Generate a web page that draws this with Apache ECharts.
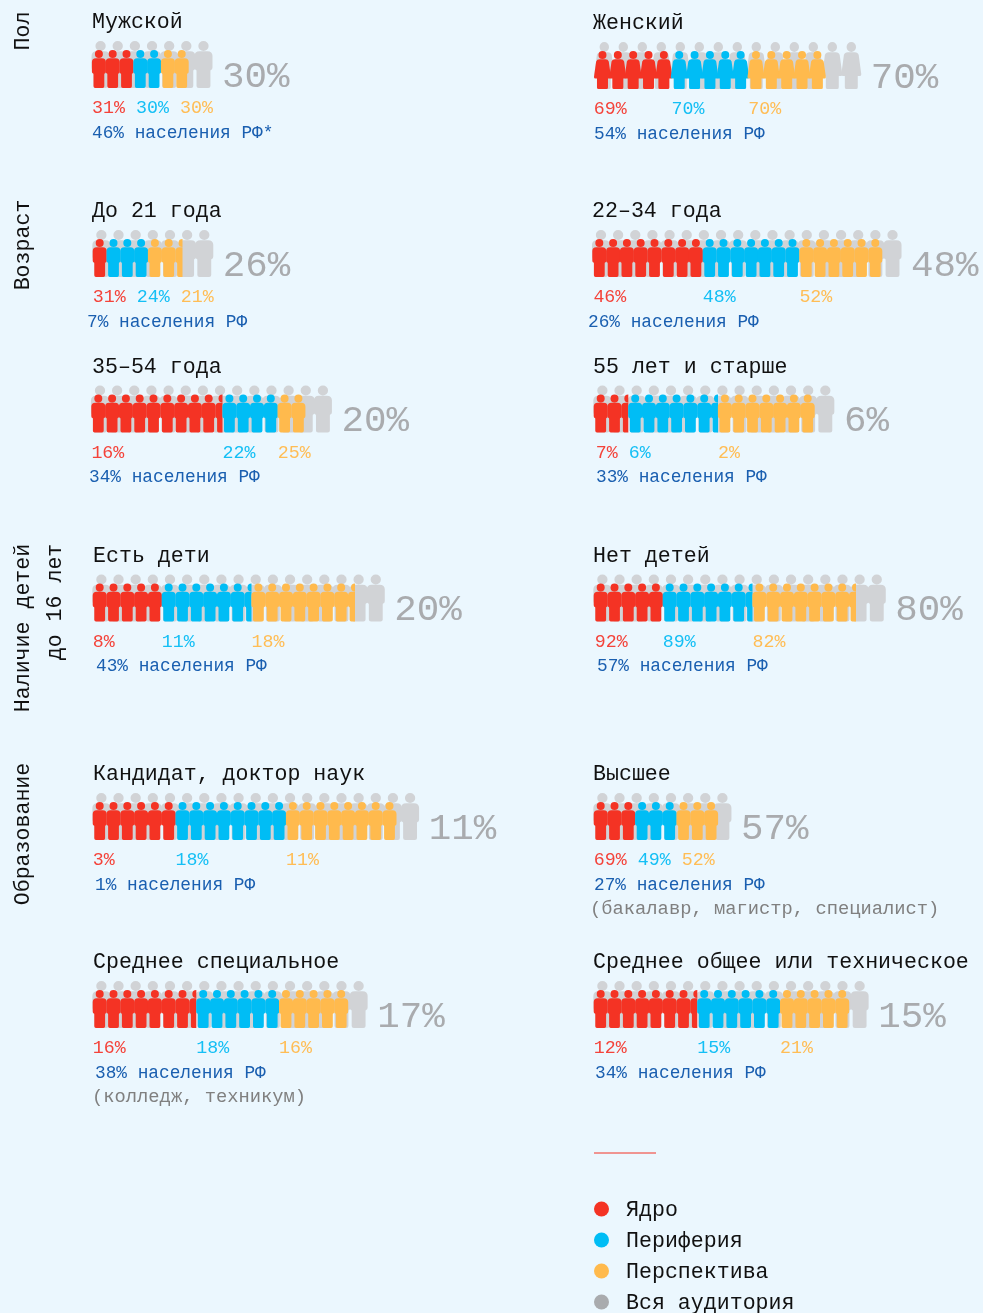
<!DOCTYPE html>
<html><head><meta charset="utf-8">
<style>html,body{margin:0;padding:0;background:#ebf7fe}#c{width:983px;height:1313px}</style>
<script src="https://cdn.jsdelivr.net/npm/echarts@6/dist/echarts.min.js"></script>
</head><body><div id="c"></div>
<script>
// ---------- data ----------
const panelTitles = ['Мужской','Женский','До 21 года','22–34 года','35–54 года','55 лет и старше','Есть дети','Нет детей','Кандидат, доктор наук','Высшее','Среднее специальное','Среднее общее или техническое'];
const coreFigures      = [3,5,1,8,9.5,2.5,5,5,6,3,7.5,7.5];
const peripheryFigures = [2,5,3,7,4,6.5,6.5,6.5,8,3,6,6];
const prospectFigures  = [2,5,2.5,6,2,7,7.5,7.5,8,3,5,5];
const audienceFigures  = [7,14,7,18,14,14,17,17,19,8,16,16];
const corePct      = ['31%','69%','31%','46%','16%','7%','8%','92%','3%','69%','16%','12%'];
const peripheryPct = ['30%','70%','24%','48%','22%','6%','11%','89%','18%','49%','18%','15%'];
const prospectPct  = ['30%','70%','21%','52%','25%','2%','18%','82%','11%','52%','16%','21%'];
const audiencePct  = ['30%','70%','26%','48%','20%','6%','20%','80%','11%','57%','17%','15%'];
const populationPct = ['46%','54%','7%','26%','34%','33%','43%','57%','1%','27%','38%','34%'];
const populationSuffix = ['*','','','','','','','','','','',''];
const panelNotes = ['','','','','','','','','','(бакалавр, магистр, специалист)','(колледж, техникум)',''];
const legendNames = ['Ядро','Периферия','Перспектива','Вся аудитория'];
const sideLabels = ['Пол','Возраст','Наличие детей','до 16 лет','Образование'];

// ---------- layout ----------
const panelLeft   = [92,594.8,92.8,592.4,91.4,593.8,92.8,593.8,92.8,593.8,92.8,593.8];
const panelBottom = [88,89,277,277,432.5,432.5,621.5,621.5,840,840,1028,1028];
const titleLeft   = [92,593,92,592,92,593,93,593,93,593,93,593];
const pctNudge    = [0,-1,0,1,0,2,0,1,0,0,0,0];
const popLeft     = [92,594,87,588,89,596,96,597,95,594,95,595];
const noteLeft    = [0,0,0,0,0,0,0,0,0,590,92,0];
const sidePos = [[23,31],[23,245],[23,628],[55,602],[23,834]];
const legendRows = [1209,1240,1271,1302];
const COLORS = {core:'#f43324',peri:'#00bdf5',pros:'#ffba4d',aud:'#d1d3d6',audLegend:'#a9abae',big:'#a9abae',pop:'#1a5fb0',note:'#808080',ink:'#111111',coreText:'#f4433a',periText:'#14bff5',prosText:'#ffbd55'};
const FONT = '"Liberation Mono", monospace';
const MAN = 'M3 4a4 4 0 1 1 8 0a4 4 0 1 1-8 0ZM4 8.2H10Q14 8.2 14 12V21.5Q14 23.5 12.8 23.5Q12.4 23.5 12.4 24.5V36.3Q12.4 38 10.7 38H3.3Q1.6 38 1.6 36.3V24.5Q1.6 23.5 1.2 23.5Q0 23.5 0 21.5V12Q0 8.2 4 8.2Z';
const WOMAN = 'M4.5 4a4 4 0 1 1 8 0a4 4 0 1 1-8 0ZM5.5 8.2H11.5Q14 8.2 14.8 10.5L17 26Q17 27.5 15.5 27.5H14V36.5Q14 38 12.5 38H4.5Q3 38 3 36.5V27.5H1.5Q0 27.5 0 26L2.2 10.5Q3 8.2 5.5 8.2Z';
const GRID_W = 380, GRID_H = 47;

function figureSeries(name, color, start, count, axis, path, w, h, grid) {
  const rows = [];
  for (let i = 0; i < count; i++) rows.push([start + i, 0, Math.min(1, count - i)]);
  return {
    type:'custom', name, xAxisIndex:axis, yAxisIndex:grid, silent:true, clip:false,
    itemStyle:{color}, encode:{x:0,y:1}, data:rows,
    renderItem(params, api) {
      const p = api.coord([api.value(0), 0]);
      const slot = api.size([1,0])[0];
      const frac = api.value(2);
      const el = {
        type:'path',
        shape:{pathData:path, x:p[0]+slot/2-w/2, y:p[1]-h, width:w, height:h, layout:'cover'},
        style:{fill:color}
      };
      if (frac < 1) el.clipPath = {type:'rect', shape:{x:p[0]-10, y:p[1]-h-5, width:10+frac*slot, height:h+10}};
      return el;
    }
  };
}
function textSeries(axis, grid, rows, texts, styles, dx, dy) {
  return {
    type:'custom', xAxisIndex:axis, yAxisIndex:grid, silent:true, clip:false,
    encode:{x:0,y:1}, data:rows,
    renderItem(params, api) {
      const p = api.coord([api.value(0), 0]);
      const s = styles[params.dataIndex];
      return {type:'text', x:p[0]+dx, y:p[1]+dy, style:{text:texts[params.dataIndex], fill:s.fill, font:s.font, textAlign:'left', textVerticalAlign:'middle'}};
    }
  };
}

const grid=[], xAxis=[], yAxis=[], series=[], graphic=[];
function addText(text,x,y,size,fill,rot){
  graphic.push({type:'text',x,y,rotation:rot||0,silent:true,style:{text,fill,font:size+'px '+FONT,textAlign:rot?'center':'left',textVerticalAlign:'middle'}});
}
panelTitles.forEach((title,i)=>{
  const female = i===1;
  const slotC = female?15.35:13.8, slotA = female?19:17.15;
  const path = female?WOMAN:MAN;
  const cw = female?17:14, aw = female?20:18;
  const left = panelLeft[i], bottom = panelBottom[i];
  grid.push({left,top:bottom-GRID_H,width:GRID_W,height:GRID_H,show:false,outerBoundsMode:'none'});
  const axC = xAxis.length;
  xAxis.push({type:'value',gridIndex:i,min:0,max:GRID_W/slotC,show:false});
  xAxis.push({type:'value',gridIndex:i,min:0,max:GRID_W/slotA,show:false});
  yAxis.push({type:'value',gridIndex:i,min:0,max:GRID_H,show:false});

  series.push(figureSeries(legendNames[3],COLORS.aud,0,audienceFigures[i],axC+1,path,aw,47,i));
  const c0=coreFigures[i], c1=c0+peripheryFigures[i];
  series.push(figureSeries(legendNames[0],COLORS.core,0,coreFigures[i],axC,path,cw,38,i));
  series.push(figureSeries(legendNames[1],COLORS.peri,c0,peripheryFigures[i],axC,path,cw,38,i));
  series.push(figureSeries(legendNames[2],COLORS.pros,c1,prospectFigures[i],axC,path,cw,38,i));

  // percent labels start under their block, pushed right when a block is too narrow for its text
  const charW = 11;
  const x0 = pctNudge[i]/slotC;
  const x1 = Math.max(c0, x0 + (corePct[i].length+1)*charW/slotC);
  const x2 = Math.max(c1, x1 + (peripheryPct[i].length+1)*charW/slotC);
  const pctFont = '18.3px '+FONT;
  series.push(textSeries(axC,i,[[x0,0],[x1,0],[x2,0]],[corePct[i],peripheryPct[i],prospectPct[i]],
    [{fill:COLORS.coreText,font:pctFont},{fill:COLORS.periText,font:pctFont},{fill:COLORS.prosText,font:pctFont}],0,20.5));
  // audience share beside the grey row
  series.push(textSeries(axC+1,i,[[audienceFigures[i],0]],[audiencePct[i]],[{fill:COLORS.big,font:'37.5px '+FONT}],10,-11));

  addText(title,titleLeft[i],bottom-65.5,21.6,COLORS.ink);
  addText(populationPct[i]+' населения РФ'+populationSuffix[i],popLeft[i],bottom+45,17.8,COLORS.pop);
  if(panelNotes[i]) addText(panelNotes[i],noteLeft[i],bottom+69.5,18.8,COLORS.note);
});
sideLabels.forEach((t,i)=>addText(t,sidePos[i][0],sidePos[i][1],21.6,COLORS.ink,Math.PI/2));
graphic.push({type:'line',silent:true,shape:{x1:594,y1:1153,x2:656,y2:1153},style:{stroke:COLORS.core,lineWidth:1}});

const legendColors=[COLORS.core,COLORS.peri,COLORS.pros,COLORS.audLegend];
legendNames.forEach((name,i)=>{
  graphic.push({type:'circle',silent:true,shape:{cx:601.5,cy:legendRows[i],r:7.5},style:{fill:legendColors[i]}});
  addText(name,626,legendRows[i]+1,21.6,COLORS.ink);
});
const chart = echarts.init(document.getElementById('c'),null,{renderer:'canvas'});
chart.setOption({
  animation:false, backgroundColor:'#ebf7fe', tooltip:{show:false},
  grid,xAxis,yAxis,series,graphic
});
</script></body></html>
